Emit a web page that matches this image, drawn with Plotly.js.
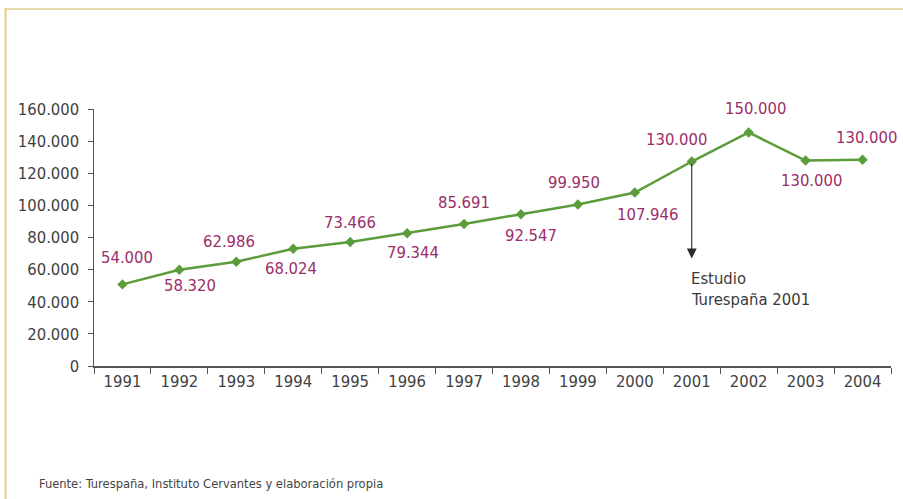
<!DOCTYPE html>
<html>
<head>
<meta charset="utf-8">
<script src="https://cdn.plot.ly/plotly-3.0.1.min.js"></script>
<style>
  html, body { margin: 0; padding: 0; background: #ffffff; }
  #chart { width: 903px; height: 499px; }
  svg text, text { font-stretch: condensed !important; }
</style>
</head>
<body>
<div id="chart"></div>
<script>
// ---- data ----
var years = ['1991','1992','1993','1994','1995','1996','1997','1998','1999','2000','2001','2002','2003','2004'];
// plotted point heights as drawn in the reference
var values = [50800, 59900, 64900, 73000, 77200, 82600, 88400, 94500, 100500, 108000, 127300, 145400, 127900, 128400];
// data labels printed beside the points
var labels = ['54.000','58.320','62.986','68.024','73.466','79.344','85.691','92.547','99.950','107.946','130.000','150.000','130.000','130.000'];
var yTicks = [0, 20000, 40000, 60000, 80000, 100000, 120000, 140000, 160000];
var noteYear = '2001';
var noteLines = ['Estudio', 'Turespaña 2001'];
var source = 'Fuente: Turespaña, Instituto Cervantes y elaboración propia';

// ---- styling / placement ----
var FONT = 'DejaVu Sans, sans-serif';
var FS = 16.5;
var labelShiftX = [5, 11, -7, -2, 0, 6, 0, 10, -4, 13, -15, 7, 6, 4];
var labelShiftY = [27, -16, 20, -20, 20, -19, 22, -21, 22, -22, 22, 24, -20, 22];

var annotations = years.map(function (yr, i) {
  return {
    x: i, y: values[i], xref: 'x', yref: 'y',
    text: labels[i], showarrow: false,
    xanchor: 'center', yanchor: 'middle',
    xshift: labelShiftX[i], yshift: labelShiftY[i],
    font: { family: FONT, size: FS, color: '#9b2d6a' }
  };
});

var noteIdx = years.indexOf(noteYear);
// arrow from the 2001 point downwards
annotations.push({
  x: noteIdx, y: 67000, xref: 'x', yref: 'y',
  text: '', showarrow: true,
  ax: 0, ay: -96, axref: 'pixel', ayref: 'pixel',
  arrowhead: 2, arrowsize: 1.8, arrowwidth: 1.1, arrowcolor: '#2a2a2a',
  standoff: 0, startstandoff: 0
});
annotations.push({
  x: noteIdx, y: 54500, xref: 'x', yref: 'y', xanchor: 'left', yanchor: 'middle',
  xshift: -3, text: noteLines[0], showarrow: false,
  font: { family: FONT, size: FS, color: '#3a3a3a' }
});
annotations.push({
  x: noteIdx, y: 41400, xref: 'x', yref: 'y', xanchor: 'left', yanchor: 'middle',
  xshift: -3, text: noteLines[1], showarrow: false,
  font: { family: FONT, size: FS, color: '#3a3a3a' }
});
annotations.push({
  x: -0.071, y: -0.459, xref: 'paper', yref: 'paper', xanchor: 'left', yanchor: 'middle',
  text: source, showarrow: false,
  font: { family: FONT, size: 12.8, color: '#444444' }
});

var trace = {
  type: 'scatter', mode: 'lines+markers',
  x: years, y: values,
  line: { color: '#5b9c3b', width: 2.5 },
  marker: { symbol: 'diamond', size: 8, color: '#5b9c3b' },
  hoverinfo: 'x+y'
};

var layout = {
  width: 903, height: 499,
  margin: { l: 94, r: 12, t: 109, b: 133 },
  paper_bgcolor: '#ffffff', plot_bgcolor: '#ffffff',
  showlegend: false,
  separators: ',.',
  font: { family: FONT, size: FS, color: '#3f3f3f' },
  xaxis: {
    type: 'category', range: [-0.5, 13.5],
    showline: true, linecolor: '#555555', linewidth: 1.5,
    ticks: 'outside', tickson: 'boundaries', ticklen: 6, tickcolor: '#555555',
    showgrid: false, zeroline: false,
    tickfont: { family: FONT, size: FS, color: '#3f3f3f' }
  },
  yaxis: {
    range: [0, 160000], tickvals: yTicks, tickformat: ',d',
    showline: true, linecolor: '#555555', linewidth: 1.5,
    ticks: 'outside', ticklen: 5, tickcolor: '#555555',
    ticklabelstandoff: 5,
    showgrid: false, zeroline: false,
    tickfont: { family: FONT, size: FS, color: '#3f3f3f' }
  },
  annotations: annotations,
  shapes: [
    { type: 'line', xref: 'paper', yref: 'paper', x0: -0.111, x1: 1.02, y0: 1.389, y1: 1.389,
      line: { color: '#e8dbb0', width: 2 } },
    { type: 'line', xref: 'paper', yref: 'paper', x0: -0.111, x1: -0.111, y0: 1.393, y1: -0.55,
      line: { color: '#ebc981', width: 2 } }
  ]
};

Plotly.newPlot('chart', [trace], layout, { displayModeBar: false, staticPlot: true });
</script>
</body>
</html>
